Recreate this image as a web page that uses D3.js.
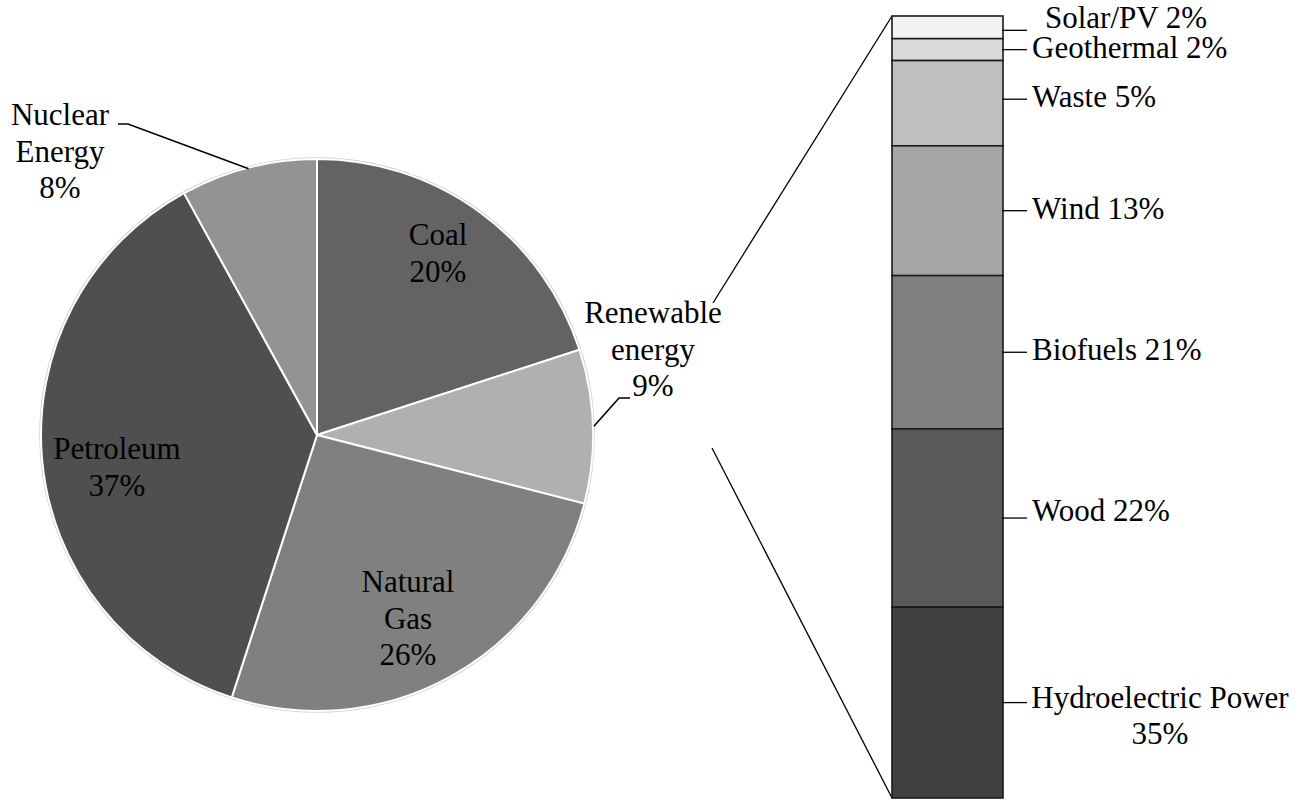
<!DOCTYPE html>
<html>
<head>
<meta charset="utf-8">
<script src="https://cdn.jsdelivr.net/npm/d3@7"></script>
<style>
  html, body { margin: 0; padding: 0; background: #fff; }
  svg { display: block; }
  text { font-family: "Liberation Serif", "DejaVu Serif", serif; font-size: 31px; fill: #000; }
</style>
</head>
<body>
<svg id="chart" width="1313" height="801"></svg>
<script>
// ---- data ----
const mainCategories = ["Coal", "Renewable energy", "Natural Gas", "Petroleum", "Nuclear Energy"];
const mainValues = [20, 9, 26, 37, 8];
const mainColors = ["#636363", "#b0b0b0", "#808080", "#4f4f4f", "#939393"];

const renewCategories = ["Solar/PV", "Geothermal", "Waste", "Wind", "Biofuels", "Wood", "Hydroelectric Power"];
const renewPercents = [2, 2, 5, 13, 21, 22, 35];
// share of the bar height each segment occupies in the picture
const renewBarShares = [2.9, 2.8, 10.9, 16.6, 19.6, 22.8, 24.4];
const renewColors = ["#f2f2f2", "#d9d9d9", "#bfbfbf", "#a5a5a5", "#7f7f7f", "#595959", "#404040"];

// ---- layout ----
const FONT = "'Liberation Serif', 'DejaVu Serif', serif";
const svg = d3.select("#chart");
const cx = 317, cy = 435, R = 276;
const lineH = 36.5;

// ---- pie ----
const pie = d3.pie().sort(null).value(d => d.v).startAngle(0).endAngle(2 * Math.PI);
const arcs = pie(mainCategories.map((c, i) => ({ c, v: mainValues[i], col: mainColors[i] })));
const arc = d3.arc().innerRadius(0).outerRadius(R);

const gPie = svg.append("g").attr("transform", `translate(${cx},${cy})`);
gPie.append("circle").attr("r", R + 1).attr("fill", "none").attr("stroke", "#cfcfcf").attr("stroke-width", 1.5);
gPie.selectAll("path.slice").data(arcs).enter().append("path")
  .attr("class", "slice")
  .attr("d", arc)
  .attr("fill", d => d.data.col)
  .attr("stroke", "#fff")
  .attr("stroke-width", 2)
  .attr("stroke-linejoin", "round");

function edgePoint(d, r) {
  const a = (d.startAngle + d.endAngle) / 2;
  return [cx + r * Math.sin(a), cy - r * Math.cos(a)];
}

// pie labels: lines of text (baseline of first line) and position
const pieLabelPos = [
  { x: 438, y: 245, lines: ["Coal", mainValues[0] + "%"] },
  { x: 653, y: 323, lines: ["Renewable", "energy", mainValues[1] + "%"] },
  { x: 408, y: 592, lines: ["Natural", "Gas", mainValues[2] + "%"] },
  { x: 117, y: 459, lines: ["Petroleum", mainValues[3] + "%"] },
  { x: 60,  y: 125, lines: ["Nuclear", "Energy", mainValues[4] + "%"] }
];
pieLabelPos.forEach(p => {
  const t = svg.append("text").attr("text-anchor", "middle").attr("font-family", FONT);
  p.lines.forEach((ln, j) => {
    t.append("tspan").attr("x", p.x).attr("y", p.y + j * lineH).text(ln);
  });
});

// leader lines for outside pie labels
const leader = d3.line();
{
  const e = edgePoint(arcs[4], R - 1);
  svg.append("path").attr("d", leader([[118, 124], [128, 124], e]))
    .attr("fill", "none").attr("stroke", "#000").attr("stroke-width", 1.6);
}
{
  const e = edgePoint(arcs[1], R + 1);
  svg.append("path").attr("d", leader([e, [619, 398], [630, 398]]))
    .attr("fill", "none").attr("stroke", "#000").attr("stroke-width", 1.6);
}

// ---- bar of renewables ----
const barX0 = 892, barX1 = 1003;
const yScale = d3.scaleLinear().domain([0, 100]).range([16, 798]);
let acc = 0;
const segs = renewCategories.map((c, i) => {
  const s = { c, pct: renewPercents[i], y0: acc, y1: acc + renewBarShares[i], col: renewColors[i] };
  acc += renewBarShares[i];
  return s;
});

// connector lines from pie area to bar
svg.append("line").attr("x1", 713).attr("y1", 303).attr("x2", barX0).attr("y2", yScale(0))
  .attr("stroke", "#000").attr("stroke-width", 1.3);
svg.append("line").attr("x1", 712).attr("y1", 448).attr("x2", barX0).attr("y2", yScale(100))
  .attr("stroke", "#000").attr("stroke-width", 1.3);

svg.append("g").selectAll("rect").data(segs).enter().append("rect")
  .attr("x", barX0)
  .attr("width", barX1 - barX0)
  .attr("y", d => yScale(d.y0))
  .attr("height", d => yScale(d.y1) - yScale(d.y0))
  .attr("fill", d => d.col)
  .attr("stroke", "#1a1a1a")
  .attr("stroke-width", 1.6);

// bar labels
segs.forEach((s, i) => {
  let ym = (yScale(s.y0) + yScale(s.y1)) / 2;
  if (i === 0) ym += 3;
  if (i === 2) ym -= 4;
  svg.append("line").attr("x1", barX1 - 1).attr("x2", 1027).attr("y1", ym).attr("y2", ym)
    .attr("stroke", "#000").attr("stroke-width", 1.3);
  if (i === segs.length - 1) {
    const t = svg.append("text").attr("text-anchor", "middle").attr("font-family", FONT);
    t.append("tspan").attr("x", 1160).attr("y", ym + 5).text(s.c);
    t.append("tspan").attr("x", 1160).attr("y", ym + 5 + lineH).text(s.pct + "%");
  } else {
    const dx = i === 0 ? 1045 : 1032;
    const dy = i === 0 ? -2 : (i === 5 ? 3 : 8);
    svg.append("text").attr("font-family", FONT).attr("x", dx).attr("y", ym + dy).text(s.c + " " + s.pct + "%");
  }
});
</script>
</body>
</html>
